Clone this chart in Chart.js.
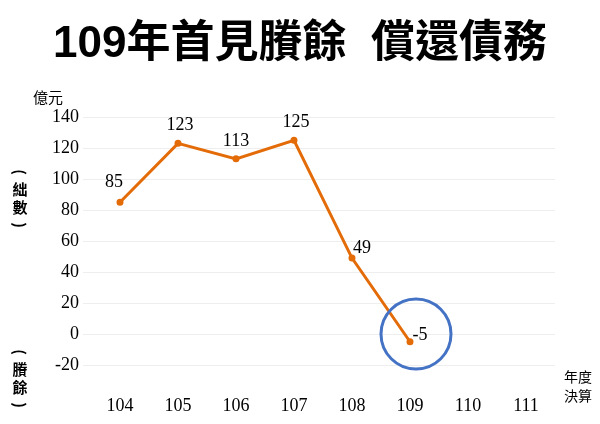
<!DOCTYPE html>
<html><head><meta charset="utf-8">
<script src="https://cdn.jsdelivr.net/npm/chart.js@4"></script>
<style>body{margin:0;background:#fff}#w{position:relative;width:600px;height:424px}</style>
</head><body><div id="w"><canvas id="c" width="600" height="424"></canvas></div>
<script>
const categories=["104","105","106","107","108","109","110","111"];
const values=[85,123,113,125,49,-5,null,null];
const yTicks=[-20,0,20,40,60,80,100,120,140];
const title="109年首見賸餘  償還債務";
const serif="'Liberation Serif','DejaVu Serif',serif";
const cjk="'Noto Sans CJK TC','Noto Sans CJK SC',sans-serif";
Chart.defaults.font.family=serif;
const deco={id:'deco',afterDraw(ch){
  const c=ch.ctx,x=ch.scales.x,y=ch.scales.y;
  c.save();
  c.fillStyle='#000';c.textAlign='center';c.textBaseline='middle';
  c.font="bold 44px 'Liberation Sans',"+cjk;c.fillText(title,300,45);
  c.font="15px "+cjk;c.fillText("億元",48,97);
  function vert(chars,x0,y0){
    c.font="bold 15px "+cjk;
    c.save();c.translate(x0,y0);c.rotate(Math.PI/2);c.fillText("(",0,0);c.restore();
    chars.forEach((t,i)=>c.fillText(t,x0,y0+17+i*18));
    c.save();c.translate(x0,y0+17+chars.length*18);c.rotate(Math.PI/2);c.fillText(")",0,0);c.restore();
  }
  vert(["絀","數"],20,172);vert(["賸","餘"],20,352);
  c.font="14px "+cjk;c.fillText("年度",578,377);c.fillText("決算",578,396);
  c.font="18px "+serif;
  const off={0:[-6,-20],1:[2,-18],2:[0,-18],3:[2,-18],4:[10,-10],5:[10,-6]};
  values.forEach((v,i)=>{if(v==null)return;const o=off[i];
    c.fillText(String(v),x.getPixelForValue(i)+o[0],y.getPixelForValue(v)+o[1]);});
  c.strokeStyle='#4472C4';c.lineWidth=3;c.beginPath();
  c.arc(x.getPixelForValue(5)+6,y.getPixelForValue(0),35,0,Math.PI*2);c.stroke();
  c.restore();}};
new Chart(document.getElementById('c'),{type:'line',
 data:{labels:categories,datasets:[{data:values,borderColor:'#E36C09',backgroundColor:'#E36C09',borderWidth:3,pointRadius:2,tension:0}]},
 options:{responsive:false,animation:false,
  layout:{padding:{top:117,left:0,right:45,bottom:0}},
  plugins:{legend:{display:false},tooltip:{enabled:false}},
  scales:{
   x:{offset:true,afterFit(a){a.height=59;},grid:{display:false},border:{display:false},ticks:{color:'#000',font:{family:serif,size:18},padding:22}},
   y:{min:-20,max:140,afterFit(a){a.width=91;},afterBuildTicks(a){a.ticks=yTicks.map(v=>({value:v}));},
      grid:{color:'#eeeeee'},border:{display:false},ticks:{color:'#000',font:{family:serif,size:18},padding:4}}}}
 ,plugins:[deco]});
</script></body></html>
